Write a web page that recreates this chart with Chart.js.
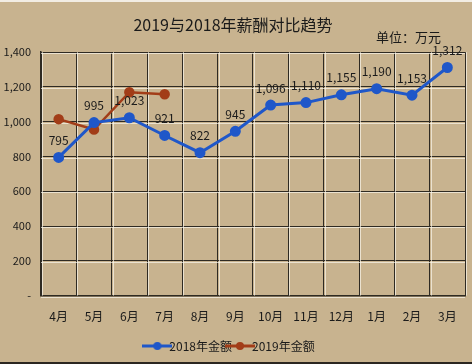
<!DOCTYPE html>
<html>
<head>
<meta charset="utf-8">
<script src="https://cdn.jsdelivr.net/npm/chart.js@4.4.1/dist/chart.umd.min.js"></script>
<style>
  html, body { margin: 0; padding: 0; background: #ffffff; }
  .wrap { position: relative; width: 472px; height: 364px; box-sizing: border-box;
    background: #c8b38f; border-top: 2px solid #f2ede4; border-bottom: 2px solid #2b2620; }
</style>
</head>
<body>
<div class="wrap"><canvas id="myChart"></canvas></div>
<script>
const months = ["4月", "5月", "6月", "7月", "8月", "9月", "10月", "11月", "12月", "1月", "2月", "3月"];
const amount2018 = [795, 995, 1023, 921, 822, 945, 1096, 1110, 1155, 1190, 1153, 1312];
const amount2019 = [1015, 955, 1170, 1158, null, null, null, null, null, null, null, null];
const yTicks = [0, 200, 400, 600, 800, 1000, 1200, 1400];

const blue = "#1f57c9";
const brown = "#a23d18";
const font = "'Noto Sans CJK SC', 'Noto Sans', sans-serif";

// little legend marker: line with a dot in the middle
const legendMark = (color) => {
  const c = document.createElement("canvas");
  c.width = 30;
  c.height = 10;
  const ctx = c.getContext("2d");
  ctx.strokeStyle = color;
  ctx.lineWidth = 3;
  ctx.beginPath();
  ctx.moveTo(0, 5);
  ctx.lineTo(30, 5);
  ctx.stroke();
  ctx.fillStyle = color;
  ctx.beginPath();
  ctx.arc(15, 5, 4, 0, Math.PI * 2);
  ctx.fill();
  return c;
};

const fmt = (v) => (v === 0 ? "-" : v.toLocaleString("en-US"));

// light line next to each dark grid line, like the embossed look of the original
const emboss = {
  id: "emboss",
  beforeDatasetsDraw(chart) {
    const { ctx, chartArea, scales } = chart;
    ctx.save();
    ctx.strokeStyle = "rgba(250,246,235,0.7)";
    ctx.lineWidth = 1;
    for (const t of yTicks) {
      const y = Math.round(scales.y.getPixelForValue(t)) + 1.5;
      ctx.beginPath();
      ctx.moveTo(chartArea.left, y);
      ctx.lineTo(chartArea.right, y);
      ctx.stroke();
    }
    const step = (chartArea.right - chartArea.left) / months.length;
    for (let i = 0; i <= months.length; i++) {
      const x = Math.round(chartArea.left + step * i) + 1.5;
      ctx.beginPath();
      ctx.moveTo(x, chartArea.top);
      ctx.lineTo(x, chartArea.bottom);
      ctx.stroke();
    }
    ctx.restore();
  },
};

const valueLabels = {
  id: "valueLabels",
  afterDatasetsDraw(chart) {
    const { ctx } = chart;
    const meta = chart.getDatasetMeta(0);
    ctx.save();
    ctx.font = "12px " + font;
    ctx.fillStyle = "#1a1a1a";
    ctx.textAlign = "center";
    ctx.textBaseline = "middle";
    meta.data.forEach((pt, i) => {
      ctx.fillText(fmt(amount2018[i]), pt.x, pt.y - 17);
    });
    // unit note under the title, right side
    ctx.font = "13px " + font;
    ctx.textAlign = "right";
    ctx.fillText("单位：万元", 441, 35);
    ctx.restore();
  },
};

new Chart(document.getElementById("myChart").getContext("2d"), {
  type: "line",
  data: {
    labels: months,
    datasets: [
      {
        label: "2018年金额",
        data: amount2018,
        borderColor: blue,
        backgroundColor: blue,
        borderWidth: 3,
        pointRadius: 4,
        pointHoverRadius: 4,
        pointStyle: "circle",
        tension: 0,
      },
      {
        label: "2019年金额",
        data: amount2019,
        borderColor: brown,
        backgroundColor: brown,
        borderWidth: 2.5,
        pointRadius: 4,
        pointHoverRadius: 4,
        tension: 0,
      },
    ],
  },
  options: {
    responsive: true,
    maintainAspectRatio: false,
    animation: false,
    layout: { padding: { left: 0, right: 6, top: 4, bottom: 0 } },
    plugins: {
      title: {
        display: true,
        text: "2019与2018年薪酬对比趋势",
        color: "#1a1a1a",
        font: { family: font, size: 16, weight: "normal" },
        padding: { top: 9, bottom: 18 },
      },
      legend: {
        position: "bottom",
        labels: {
          usePointStyle: true,
          color: "#1a1a1a",
          font: { family: font, size: 12 },
          padding: 2,
          generateLabels(chart) {
            return chart.data.datasets.map((ds, i) => ({
              text: ds.label,
              fontColor: "#1a1a1a",
              pointStyle: legendMark(ds.borderColor),
              datasetIndex: i,
              lineWidth: 0,
              strokeStyle: "transparent",
              fillStyle: "transparent",
            }));
          },
        },
      },
      tooltip: { enabled: false },
    },
    scales: {
      x: {
        offset: true,
        grid: { offset: true, color: "#2e2a22", lineWidth: 1, drawTicks: false },
        border: { color: "#2e2a22", width: 1.5 },
        ticks: { color: "#1a1a1a", font: { family: font, size: 12 }, padding: 14, maxRotation: 0 },
      },
      y: {
        min: 0,
        max: 1400,
        afterFit: (s) => { s.width = 41; },
        afterBuildTicks: (s) => { s.ticks = yTicks.map((v) => ({ value: v })); },
        grid: { color: "#2e2a22", lineWidth: 1, drawTicks: false },
        border: { color: "#2e2a22", width: 1.5 },
        ticks: { color: "#1a1a1a", font: { family: font, size: 11 }, padding: 10, callback: (v) => fmt(v) },
      },
    },
  },
  plugins: [emboss, valueLabels],
});
</script>
</body>
</html>
